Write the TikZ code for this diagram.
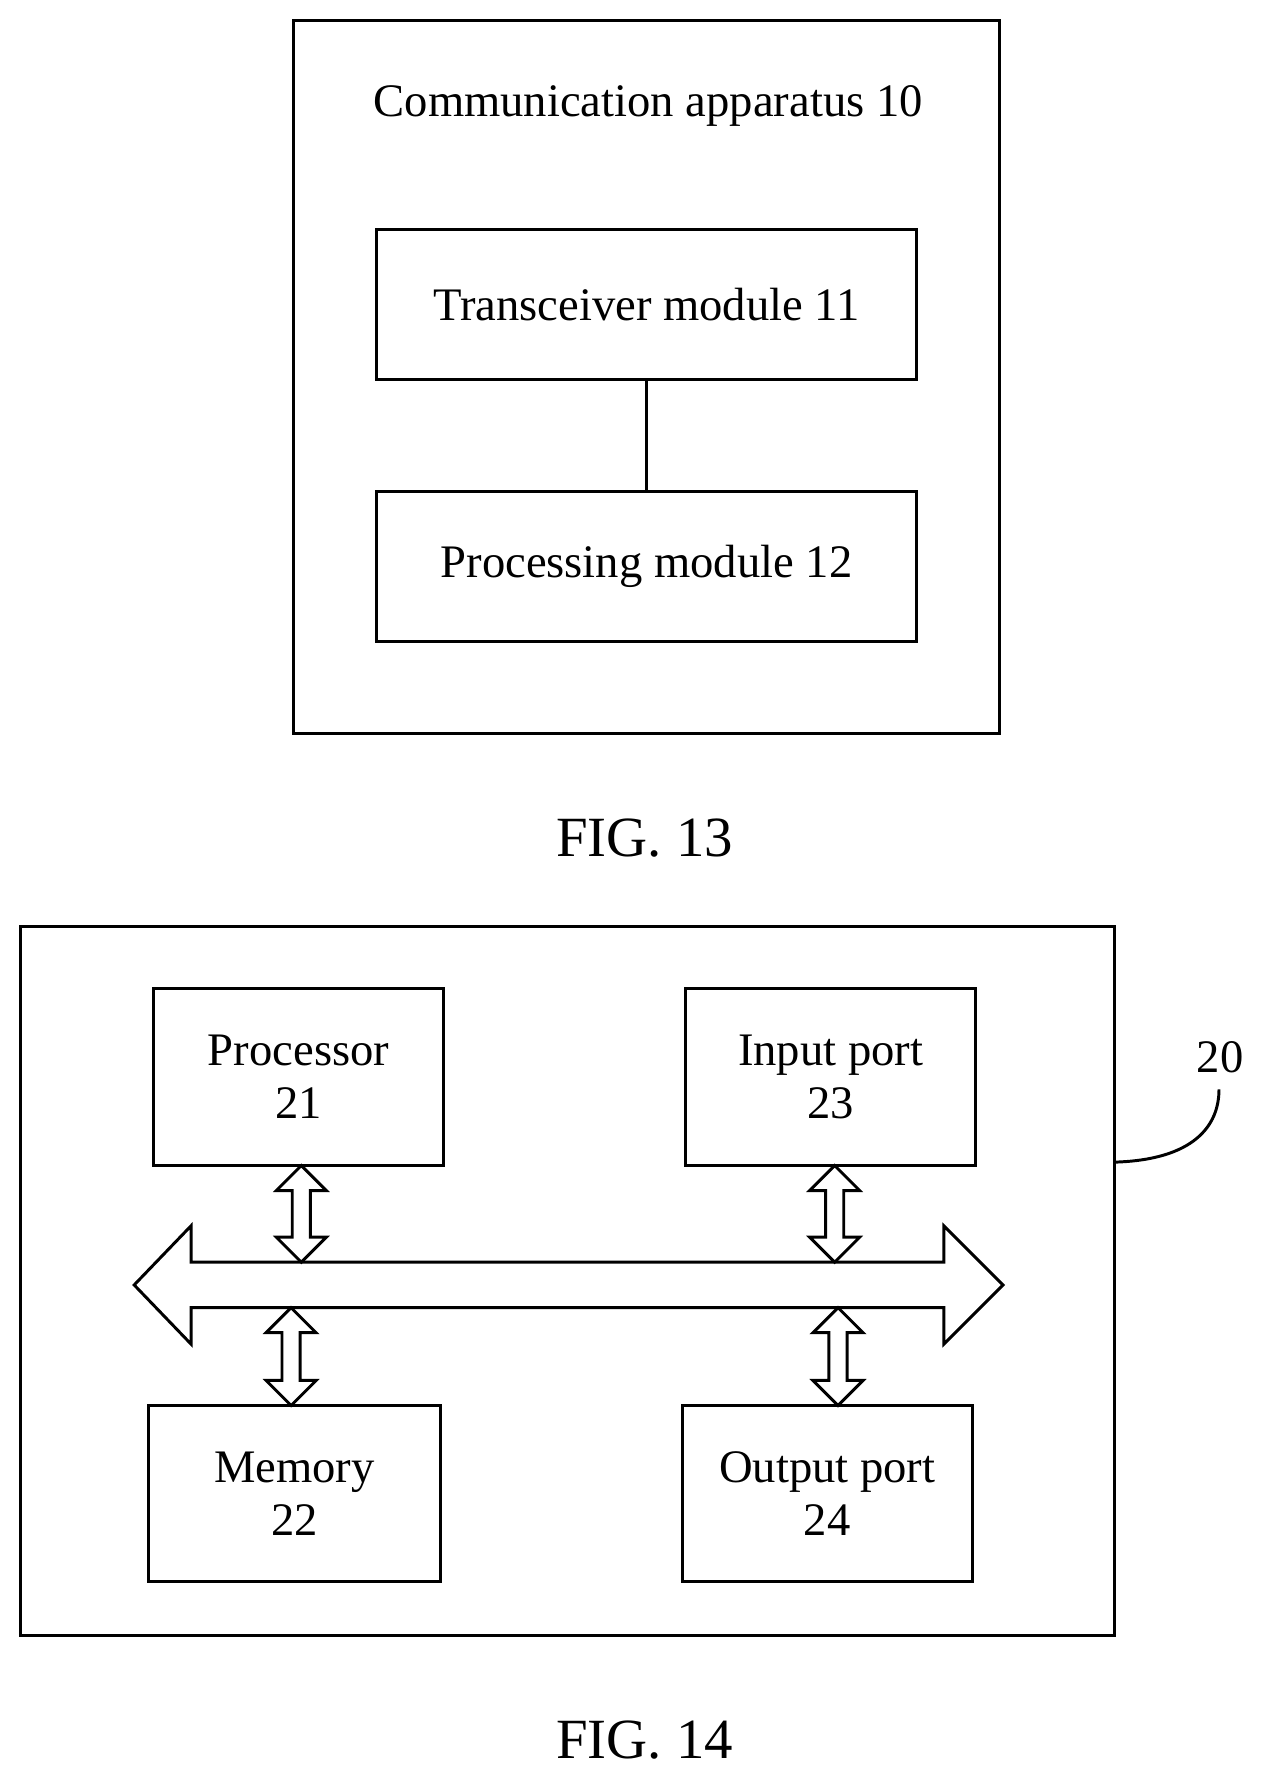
\documentclass[tikz,border=0pt]{standalone}
\usepackage{fontspec}
\setmainfont{Liberation Serif}
\newcommand\vdarr[3]{\draw[ln] (#1,#2) -- ++(22,22) -- ++(-14,0) -- (#1+8,#3-22) -- ++(14,0) -- (#1,#3) -- ++(-22,-22) -- ++(14,0) -- (#1-8,#2+22) -- ++(-14,0) -- cycle;}
\begin{document}
\begin{tikzpicture}[x=1pt,y=-1pt,
  ln/.style={line width=2.6pt,line join=miter},
  box/.style={draw,ln,rectangle,inner sep=0pt,align=center,font=\fontsize{41}{47}\selectfont},
  lab/.style={font=\fontsize{41}{47}\selectfont,inner sep=0pt},
  fig/.style={font=\fontsize{50}{56}\selectfont,inner sep=0pt}]
\useasboundingbox (0,0) rectangle (1110,1568);
\node[box,minimum width=621pt,minimum height=627pt] (app) at (568.5,331.5) {};
\node[lab] (title) at (570,93) {Communication apparatus 10};
\node[box,minimum width=475pt,minimum height=132pt] (tr) at (568.5,268) {Transceiver module 11};
\node[box,minimum width=475pt,minimum height=132pt] (pr) at (568.5,498) {Processing module 12};
\draw[ln] (tr.south) -- (pr.north);
\node[fig] (f13) at (567,737) {FIG. 13};
\node[box,minimum width=962pt,minimum height=623pt] (dev) at (499,1126.5) {};
\node[box,minimum width=255pt,minimum height=156pt] (p21) at (262.5,947) {Processor\\21};
\node[box,minimum width=255pt,minimum height=156pt] (p23) at (730.5,947) {Input port\\23};
\node[box,minimum width=256pt,minimum height=155pt] (p22) at (259,1313.5) {Memory\\22};
\node[box,minimum width=255pt,minimum height=155pt] (p24) at (727.5,1313.5) {Output port\\24};
\draw[ln] (118,1130) -- (168,1078) -- (168,1110) -- (830,1110) -- (830,1078) -- (882,1130) -- (830,1182) -- (830,1150) -- (168,1150) -- (168,1182) -- cycle;
\vdarr{265}{1025}{1110}
\vdarr{734}{1025}{1110}
\vdarr{256}{1150}{1236}
\vdarr{737}{1150}{1236}
\node[lab] (l20) at (1073,930) {20};
\coordinate (c20) at (980,1022);
\draw[ln] (c20) .. controls (1050,1020) and (1072,990) .. (1072,958);
\node[fig] (f14) at (567,1530) {FIG. 14};
\end{tikzpicture}
\end{document}
